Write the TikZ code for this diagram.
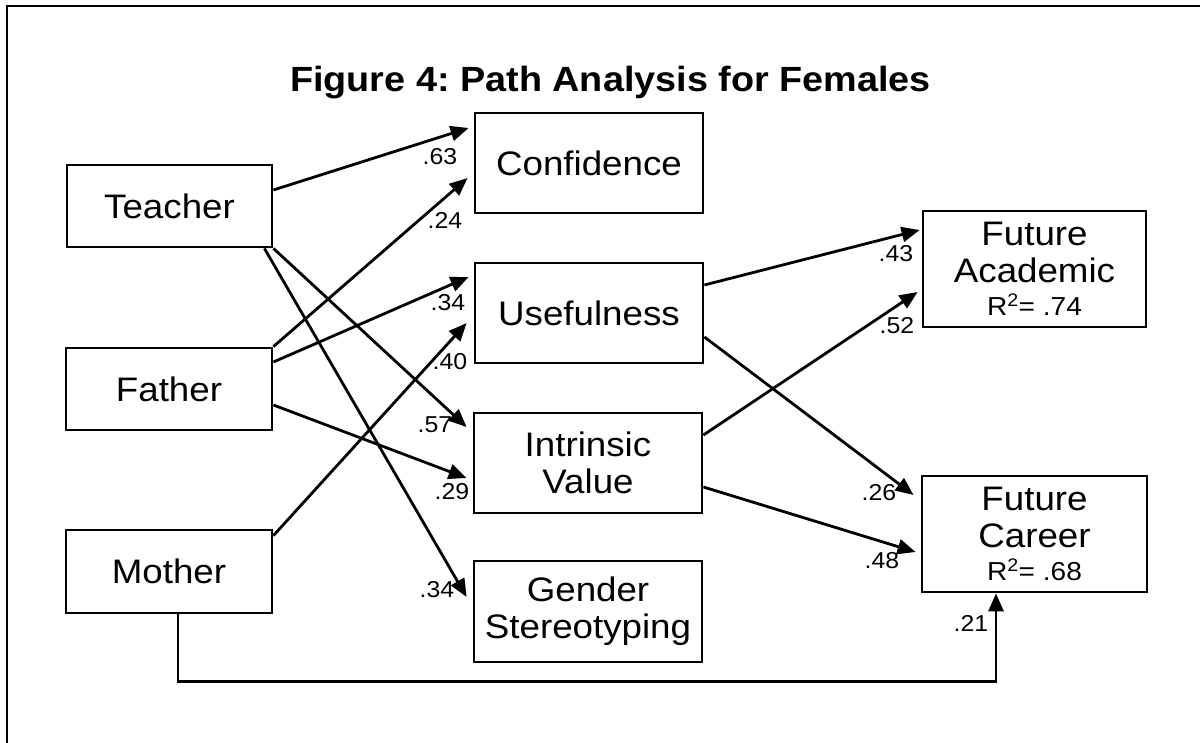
\documentclass[tikz,border=0pt]{standalone}
\usepackage{fontspec}
\setmainfont{Liberation Sans}[FakeStretch=1.08]
\usetikzlibrary{arrows.meta}
\frenchspacing
\begin{document}
\begin{tikzpicture}[x=1pt,y=-1pt,
  box/.style={draw, line width=2.8pt, inner sep=0pt, align=center,
    font=\fontsize{34}{37}\selectfont},
  arr/.style={line width=2.8pt, -{Triangle[length=18pt,width=15pt]}},
  lbl/.style={font=\fontsize{23}{25}\selectfont, inner sep=0pt}
]
\useasboundingbox (0,0) rectangle (1200,743);
\draw[line width=1.4pt] (1200,6) -- (7,6) -- (7,743);

\node[font=\fontsize{35}{38}\selectfont\bfseries, anchor=base] (title) at (610.5,92) {Figure 4: Path Analysis for Females};

\node[box, minimum width=205pt, minimum height=82pt] (T) at (169.5,206) {Teacher};
\node[box, minimum width=206pt, minimum height=82pt] (F) at (169,389) {Father};
\node[box, minimum width=206pt, minimum height=83pt] (M) at (169,571.5) {Mother};

\node[box, minimum width=228pt, minimum height=100pt] (C) at (589,163) {Confidence};
\node[box, minimum width=228pt, minimum height=100pt] (U) at (589,313) {Usefulness};
\node[box, minimum width=228pt, minimum height=100pt] (I) at (588,463) {Intrinsic\\Value};
\node[box, minimum width=228pt, minimum height=101pt] (G) at (588,611.5) {Gender\\Stereotyping};

\node[box, minimum width=223pt, minimum height=116pt] (A) at (1034.5,269)
  {Future\\Academic\\[-4pt]{\fontsize{26}{28}\selectfont R\textsuperscript{2}= .74}};
\node[box, minimum width=225pt, minimum height=116pt] (K) at (1034.5,534)
  {Future\\Career\\[-4pt]{\fontsize{26}{28}\selectfont R\textsuperscript{2}= .68}};

% connectors
\draw[arr] ([yshift=16pt]T.east) -- ([xshift=-5pt,yshift=35pt]C.west);
\draw[arr] (F.north east) -- ([xshift=-6pt,yshift=-15pt]C.west);
\draw[arr] ([yshift=27pt]F.east) -- ([xshift=-5pt,yshift=36pt]U.west);
\draw[arr] ([yshift=-7pt]M.north east) -- ([xshift=-7pt,yshift=-10pt]U.west);
\draw[arr] (T.south east) -- ([xshift=-6pt,yshift=36pt]I.west);
\draw[arr] ([yshift=-16pt]F.east) -- ([xshift=-6pt,yshift=-15pt]I.west);
\draw[arr] ([xshift=-9pt]T.south east) -- ([xshift=-6pt,yshift=14.5pt]G.west);
\draw[arr] ([yshift=28pt]U.east) -- ([xshift=-2pt,yshift=39pt]A.west);
\draw[arr] ([yshift=28pt]I.east) -- ([xshift=-4pt,yshift=-23pt]A.west);
\draw[arr] ([yshift=-24pt]U.east) -- ([xshift=-7pt,yshift=39pt]K.west);
\draw[arr] ([yshift=-24pt]I.east) -- ([xshift=-5pt,yshift=-18pt]K.west);
\draw[arr] ([xshift=9pt]M.south) -- ++(0,67) -| ([xshift=-38.5pt]K.south);

% labels
\node[lbl] (l1) at (440,157) {.63};
\node[lbl] (l2) at (445,220) {.24};
\node[lbl] (l3) at (448,303) {.34};
\node[lbl] (l4) at (450,362) {.40};
\node[lbl] (l5) at (435,425) {.57};
\node[lbl] (l6) at (452,492) {.29};
\node[lbl] (l7) at (437,590) {.34};
\node[lbl] (l8) at (896,254) {.43};
\node[lbl] (l9) at (897,326) {.52};
\node[lbl] (l10) at (879,493) {.26};
\node[lbl] (l11) at (882,561) {.48};
\node[lbl] (l12) at (971,623) {.21};
\end{tikzpicture}
\end{document}
